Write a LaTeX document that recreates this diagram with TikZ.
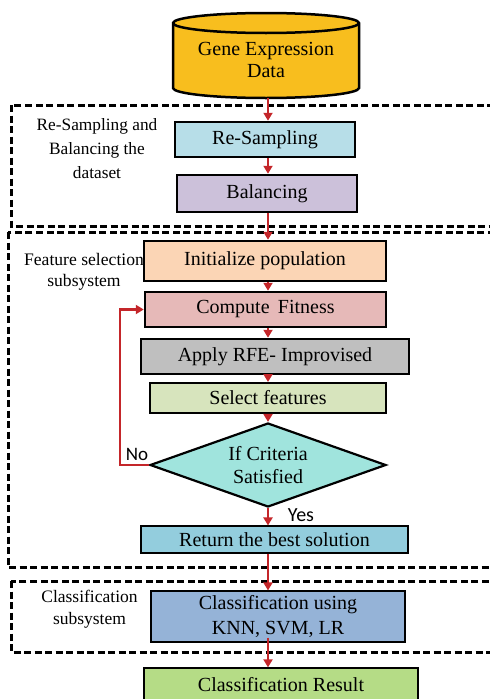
\documentclass[tikz,border=0pt]{standalone}
\usepackage{fontspec}
\setmainfont{Liberation Serif}
\newfontfamily\sanscal{Carlito}
\usetikzlibrary{shapes.geometric,arrows.meta}
\definecolor{cylfill}{HTML}{F8BE1E}
\definecolor{rsfill}{HTML}{B7DEE8}
\definecolor{balfill}{HTML}{CCC1DA}
\definecolor{initfill}{HTML}{FBD5B5}
\definecolor{fitfill}{HTML}{E6B9B8}
\definecolor{rfefill}{HTML}{BFBFBF}
\definecolor{selfill}{HTML}{D7E4BD}
\definecolor{diafill}{HTML}{A0E4DD}
\definecolor{retfill}{HTML}{93CDDD}
\definecolor{clsfill}{HTML}{95B3D7}
\definecolor{resfill}{HTML}{B5DC86}
\definecolor{arrred}{HTML}{C4262A}
\begin{document}
\begin{tikzpicture}[x=1pt,y=-1pt,
  box/.style={draw=black, line width=2.5pt, rectangle, inner sep=0pt, font=\fontsize{20}{22}\selectfont, align=center},
  thinbox/.style={box, line width=1.1pt},
  arr/.style={draw=arrred, line width=2.6pt, -{Triangle[length=8pt,width=9pt]}},
  frame/.style={draw=black, line width=3pt, dash pattern=on 7pt off 3.5pt},
  side/.style={align=center, inner sep=0pt}]
\useasboundingbox (0,0) rectangle (490,699);
\clip (0,0) rectangle (490,699);

% dashed frames
\draw[frame] (11,105) rectangle (520,226);
\draw[frame] (8,232) rectangle (520,567);
\draw[frame] (11,581) rectangle (520,652);

% side labels
\node[side, font=\fontsize{17.3}{24}\selectfont] (lab1) at (97,149) {Re-Sampling and\\Balancing the\\dataset};
\node[side, font=\fontsize{17.6}{20.5}\selectfont] (lab2) at (84,272) {Feature selection\\subsystem};
\node[side, font=\fontsize{17.5}{22}\selectfont] (lab3) at (89.5,609) {Classification\\subsystem};

% cylinder
\filldraw[fill=cylfill, line width=2.5pt] (173,23) -- (173,88)
  arc[start angle=180,end angle=360,x radius=93pt,y radius=10pt] -- (359,23)
  arc[start angle=0,end angle=180,x radius=93pt,y radius=10pt] -- cycle;
\draw[line width=2.5pt] (173,23) arc[start angle=180,end angle=360,x radius=93pt,y radius=10pt];
\node[inner sep=0pt, minimum width=186pt, minimum height=76pt, align=center, font=\fontsize{20}{22}\selectfont] (cyl) at (266,60) {Gene Expression\\Data};

% boxes
\node[box, fill=rsfill, minimum width=180pt, minimum height=35pt] (rs) at (265,139.5) {Re-Sampling};
\node[box, fill=balfill, minimum width=180pt, minimum height=37pt] (bal) at (267,193.5) {Balancing};
\node[box, fill=initfill, minimum width=242pt, minimum height=40pt] (init) at (265,261) {Initialize population};
\node[box, fill=fitfill, minimum width=241pt, minimum height=35pt] (fit) at (265.5,309.5) {Compute\ \,Fitness};
\node[box, fill=rfefill, minimum width=268pt, minimum height=35pt] (rfe) at (275,356.5) {Apply RFE- Improvised};
\node[box, fill=selfill, line width=2pt, minimum width=236pt, minimum height=30pt] (sel) at (268,398) {Select features};
\node[diamond, draw=black, line width=2.2pt, fill=diafill, minimum width=236pt, minimum height=84pt, inner sep=0pt, aspect=2.8, align=center, font=\fontsize{20}{23}\selectfont] (dia) at (268,465) {If Criteria\\Satisfied};
\node[thinbox, fill=retfill, minimum width=267pt, minimum height=27pt] (ret) at (274.5,539.5) {Return the best solution};
\node[thinbox, fill=clsfill, minimum width=254pt, minimum height=51pt, font=\fontsize{20}{25}\selectfont] (cls) at (278,616.5) {Classification using\\KNN, SVM, LR};
\node[thinbox, fill=resfill, line width=1.3pt, minimum width=274pt, minimum height=34pt] (res) at (281,685) {Classification Result};

% connectors
\coordinate (spine) at (268,0);
\coordinate (loopx) at (120,0);
\draw[arr] (cyl.south -| spine) -- (rs.north -| spine);
\draw[arr] (rs.south -| spine) -- (bal.north -| spine);
\draw[arr] (bal.south -| spine) -- (init.north -| spine);
\draw[arr] (init.south -| spine) -- (fit.north -| spine);
\draw[arr] (fit.south -| spine) -- (rfe.north -| spine);
\draw[arr] (rfe.south -| spine) -- (sel.north -| spine);
\draw[arr] (sel.south -| spine) -- (dia.north);
\draw[arr] (dia.south) -- (ret.north -| spine);
\draw[arr] (ret.south -| spine) -- (cls.north -| spine);
\draw[arr] ([yshift=5pt]cls.south -| spine) -- (res.north -| spine);
\draw[arr] (dia.west) -- (dia.west -| loopx) |- (fit.west);

% labels
\node[font=\sanscal\fontsize{19}{20}\selectfont, inner sep=0pt] (no) at (137,454) {No};
\node[font=\sanscal\fontsize{20}{20}\selectfont, inner sep=0pt] (yes) at (301,515) {Yes};
\end{tikzpicture}
\end{document}
